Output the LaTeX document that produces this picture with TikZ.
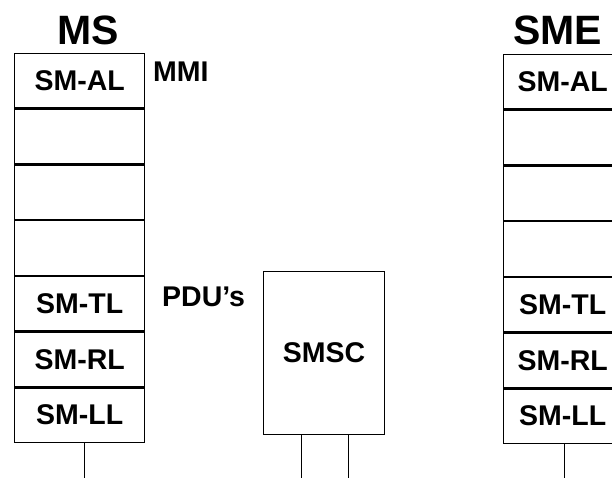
\documentclass[tikz,border=0pt]{standalone}
\usepackage{fontspec}
\setmainfont{Liberation Sans}
\usetikzlibrary{positioning}

\newcommand*{\rowh}{54.4pt}

\begin{document}
\begin{tikzpicture}
[
	x=1pt,y=-1pt,
	layer/.style={rectangle,draw,line width=1.3pt,inner sep=0pt,minimum height=\rowh,font=\fontsize{28.5}{30}\selectfont\bfseries},
	mslayer/.style={layer,minimum width=130pt},
	smelayer/.style={layer,minimum width=118pt},
	title/.style={inner sep=0pt,font=\fontsize{41}{45}\selectfont\bfseries},
	tag/.style={inner sep=0pt,anchor=west,font=\fontsize{28.5}{30}\selectfont\bfseries},
	wire/.style={line width=1pt}
]

	\useasboundingbox (0,0) rectangle (612,478);

	% MS stack
	\node[title] (ms) at (88.5,30) {MS};
	\node[mslayer,anchor=north west] (msal) at (14,53) {SM-AL};
	\node[mslayer,below=0pt of msal] (msa) {};
	\node[mslayer,below=0pt of msa] (msb) {};
	\node[mslayer,below=0pt of msb] (msc) {};
	\node[mslayer,below=0pt of msc] (mstl) {SM-TL};
	\node[mslayer,below=0pt of mstl] (msrl) {SM-RL};
	\node[mslayer,below=0pt of msrl] (msll) {SM-LL};

	\node[tag] (mmi) at (153,72) {MMI};
	\node[tag] (pdus) at (162,297) {PDU’s};

	% SMSC
	\node[rectangle,draw,line width=1.3pt,minimum width=121pt,minimum height=163pt,inner sep=0pt,
		font=\fontsize{28.5}{30}\selectfont\bfseries,anchor=north west] (smsc) at (263,271) {SMSC};

	% SME stack
	\node[title] (sme) at (557.5,30) {SME};
	\node[smelayer,anchor=north west] (smeal) at (503,54) {SM-AL};
	\node[smelayer,below=0pt of smeal] (smea) {};
	\node[smelayer,below=0pt of smea] (smeb) {};
	\node[smelayer,below=0pt of smeb] (smec) {};
	\node[smelayer,below=0pt of smec] (smetl) {SM-TL};
	\node[smelayer,below=0pt of smetl] (smerl) {SM-RL};
	\node[smelayer,below=0pt of smerl] (smell) {SM-LL};

	% lines to the bottom
	\coordinate (msend) at (84,478);
	\coordinate (smscenda) at (301,478);
	\coordinate (smscendb) at (348,478);
	\coordinate (smeend) at (564,478);

	\draw[wire] (msll.south -| msend) -- (msend);
	\draw[wire] (smsc.south -| smscenda) -- (smscenda);
	\draw[wire] (smsc.south -| smscendb) -- (smscendb);
	\draw[wire] (smell.south -| smeend) -- (smeend);

\end{tikzpicture}
\end{document}
